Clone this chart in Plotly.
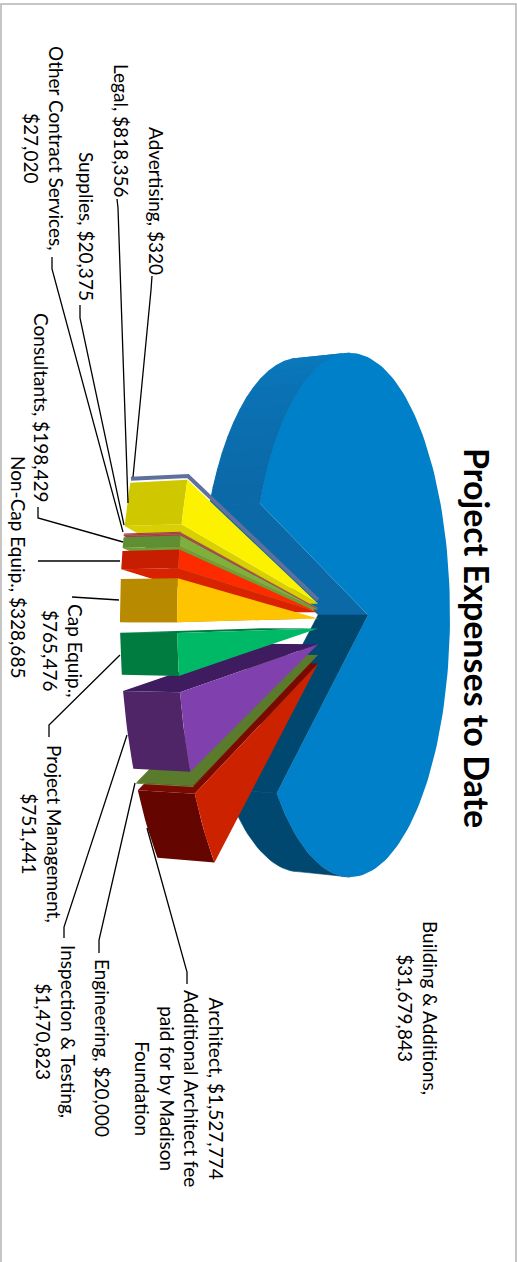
import math
import plotly.graph_objects as go

# Project cost categories in the order they run around the pie
categories = ["Advertising", "Legal", "Supplies", "Other Contract Services", "Consultants",
              "Non-Cap Equip.", "Cap Equip.", "Project Management", "Inspection & Testing",
              "Engineering", "Architect"]
amounts = [320, 818356, 20375, 27020, 198429, 328685, 765476, 751441, 1470823, 20000, 1527774]
building_name = "Building & Additions"
building_amount = 31679843
title_text = "Project Expenses to Date"

# Style per small slice: top face, outer wall, radial wall
top_colors = ["#5e709e", "#fcf200", "#b9bb20", "#a33d52", "#7fb03c", "#ff2b00", "#ffc400",
              "#00b966", "#8040ae", "#6a8a30", "#cc2200"]
wall_colors = ["#5e709e", "#cfc700", "#a33d52", "#a33d52", "#5f8f33", "#c71d00", "#b88a00",
               "#007c40", "#4f2568", "#6f8a3a", "#650500"]
radial_colors = ["#5e709e", "#d8d000", "#b9bb20", "#a33d52", "#6f9f35", "#d82200", "#b88a00",
                 "#007c40", "#3f1c60", "#5a7a2c", "#7a0a00"]
# Angular spacing (degrees) in front of each slice, from pulling the slices apart
gaps = [0, 0.7, 1.3, 0, 0.2, 0.5, 1.7, 1.8, 2.8, 2.7, 1.3]

W, H = 517, 1262
FIRST_ANGLE = -24.2
DEPTH, BLUE_DEPTH = 57, 50
MID_Y = 620
total = sum(amounts) + building_amount


def outer_point(theta):
    t = math.radians(theta)
    return 302 - 125 * math.cos(t), 617 + 344 * math.sin(t)


def apex_point(theta):
    pull = 0.2 if theta > 0 else 0.15
    return 318, 621 + pull * 344 * math.sin(math.radians(theta))


def extrude(p, depth=DEPTH):
    return p[0] - depth, MID_Y + 0.98 * (p[1] - MID_Y)


def polygon(fig, pts, color, name, line=0):
    xs = [p[0] for p in pts] + [pts[0][0]]
    ys = [p[1] for p in pts] + [pts[0][1]]
    fig.add_trace(go.Scatter(x=xs, y=ys, mode="lines", fill="toself", fillcolor=color, name=name,
                             line=dict(color=color, width=line), hoverinfo="skip", showlegend=False))


def blend(a, b, f):
    ca = [int(a[i:i + 2], 16) for i in (1, 3, 5)]
    cb = [int(b[i:i + 2], 16) for i in (1, 3, 5)]
    return "#" + "".join(f"{round(x + (y - x) * f):02x}" for x, y in zip(ca, cb))


fig = go.Figure()

# The large slice: an elliptical disc with a wedge cut out of its left side
def disc(phi):
    t = math.radians(phi)
    return 350 - 100 * math.cos(t), 615 + 262 * math.sin(t)


BLUE_APEX = (368, 615)
blue_end = 334.7
blue_start = blue_end - (building_amount / total * 360 - 11.4)

# Upper wall, lighter towards the top of the disc
steps = 14
for i in range(steps):
    a = 270 + (blue_end - 270) * i / steps
    b = 270 + (blue_end - 270) * (i + 1) / steps
    p, q = disc(a), disc(b)
    polygon(fig, [p, q, extrude(q, BLUE_DEPTH), extrude(p, BLUE_DEPTH)],
            blend("#0a7cc2", "#0b69a7", (i + 1) / steps), "upper wall", 1.2)
corner = disc(blue_end)
polygon(fig, [corner, BLUE_APEX, extrude(BLUE_APEX, BLUE_DEPTH), extrude(corner, BLUE_DEPTH)],
        "#0b69a7", "upper cut")

# Lower wall and cut
arc = [disc(blue_start + (90 - blue_start) * i / 24) for i in range(25)]
polygon(fig, arc + [extrude(p, BLUE_DEPTH) for p in reversed(arc)], "#00486f", "lower wall", 0.6)
corner = disc(blue_start)
polygon(fig, [corner, BLUE_APEX, extrude(BLUE_APEX, BLUE_DEPTH), extrude(corner, BLUE_DEPTH)],
        "#00486f", "lower cut", 0.6)

# Top face
sweep = [disc(blue_start + (blue_end - blue_start) * i / 160) for i in range(161)]
polygon(fig, [BLUE_APEX] + sweep, "#0080c8", building_name)

# Angular extent of each small slice
spans = []
theta = FIRST_ANGLE
for amount, gap in zip(amounts, gaps):
    theta += gap
    width = amount / total * 360
    spans.append((theta, theta + width))
    theta += width


def draw_slice(i):
    start, end = spans[i]
    mid = (start + end) / 2
    apex = apex_point(mid)
    rim = [outer_point(start + (end - start) * k / 10) for k in range(11)]
    rim_back = [extrude(p) for p in rim]
    name = categories[i]
    if amounts[i] < 1000:
        # Too thin to have a face: only its edge shows
        fig.add_trace(go.Scatter(x=[apex[0], rim[0][0], rim_back[0][0]], y=[apex[1], rim[0][1], rim_back[0][1]],
                                 mode="lines", line=dict(color=top_colors[i], width=4),
                                 name=name, hoverinfo="skip", showlegend=False))
        return
    # The wall along the radius that faces the viewer depends on the side of the axis
    edge = rim[-1] if mid < 0 else rim[0]
    polygon(fig, [apex, edge, extrude(edge), extrude(apex)], radial_colors[i], name + " radial")
    polygon(fig, rim + rim_back[::-1], wall_colors[i], name + " wall")
    polygon(fig, [apex] + rim, top_colors[i], name)


# Far slices first, so the ones nearest the axis overlap them
upper = [i for i, s in enumerate(spans) if sum(s) / 2 < 0]
lower = [i for i, s in enumerate(spans) if sum(s) / 2 >= 0]
for i in upper:
    draw_slice(i)
for i in reversed(lower):
    draw_slice(i)

# Leader lines from labels to slices
leaders = {
    "Advertising": [(152, 276), (151, 290), (133, 477)],
    "Legal": [(117, 199), (118, 208), (128, 503)],
    "Supplies": [(80, 305), (80, 318), (124, 525)],
    "Other Contract Services": [(52, 257), (52, 269), (123, 532)],
    "Consultants": [(38, 507), (38, 518), (123, 542)],
    "Non-Cap Equip.": [(38, 561), (120, 561)],
    "Cap Equip.": [(72, 597), (119, 600)],
    "Project Management": [(49, 737), (49, 725), (120, 655)],
    "Inspection & Testing": [(64, 938), (64, 927), (127, 735)],
    "Engineering": [(99, 953), (99, 940), (135, 783)],
    "Architect": [(187, 984), (187, 972), (147, 828)],
}
for name, pts in leaders.items():
    fig.add_trace(go.Scatter(x=[p[0] for p in pts], y=[p[1] for p in pts], mode="lines",
                             line=dict(color="black", width=1.3), name=name + " leader",
                             hoverinfo="skip", showlegend=False))


def money(v):
    return f"${v:,}"


# Label text and where each rotated block is centred
vals = dict(zip(categories, amounts))
labels = [
    (f"Advertising, {money(vals['Advertising'])}", 157, 201),
    (f"Legal, {money(vals['Legal'])}", 122, 131),
    (f"Supplies, {money(vals['Supplies'])}", 87, 226),
    (f"Other Contract Services,<br>{money(vals['Other Contract Services'])}", 44, 148),
    (f"Consultants, {money(vals['Consultants'])}", 42, 408),
    (f"Non-Cap Equip., {money(vals['Non-Cap Equip.'])}", 19, 567),
    (f"Cap Equip.,<br>{money(vals['Cap Equip.'])}", 63, 650),
    (f"Project Management,<br>{money(vals['Project Management'])}", 42, 834),
    (f"Inspection & Testing,<br>{money(vals['Inspection & Testing'])}", 56, 1031),
    (f"Engineering, {money(vals['Engineering'])}", 103, 1048),
    (f"Architect, {money(vals['Architect'])}<br>Additional Architect fee<br>paid for by Madison<br>Foundation", 180, 1088),
    (f"{building_name},<br>{money(building_amount)}", 418, 1008),
]
annotations = [dict(x=x, y=y, text=t, textangle=90, showarrow=False, xanchor="center", yanchor="middle",
                    align="center", font=dict(family="Lato", size=19, color="black"))
               for t, x, y in labels]
annotations.append(dict(x=478, y=638, text=f"<b>{title_text}</b>", textangle=90, showarrow=False,
                        xanchor="center", yanchor="middle",
                        font=dict(family="Lato", size=34, color="black")))

fig.update_layout(
    width=W, height=H, margin=dict(l=0, r=0, t=0, b=0),
    paper_bgcolor="white", plot_bgcolor="white", showlegend=False, annotations=annotations,
    xaxis=dict(range=[0, W], visible=False, fixedrange=True),
    yaxis=dict(range=[H, 0], visible=False, fixedrange=True),
    shapes=[dict(type="rect", x0=1, x1=516, y0=4, y1=H + 20, line=dict(color="#b4b4b4", width=1.5),
                 layer="below")],
)
fig.write_html("out.html", config=dict(displayModeBar=False))
